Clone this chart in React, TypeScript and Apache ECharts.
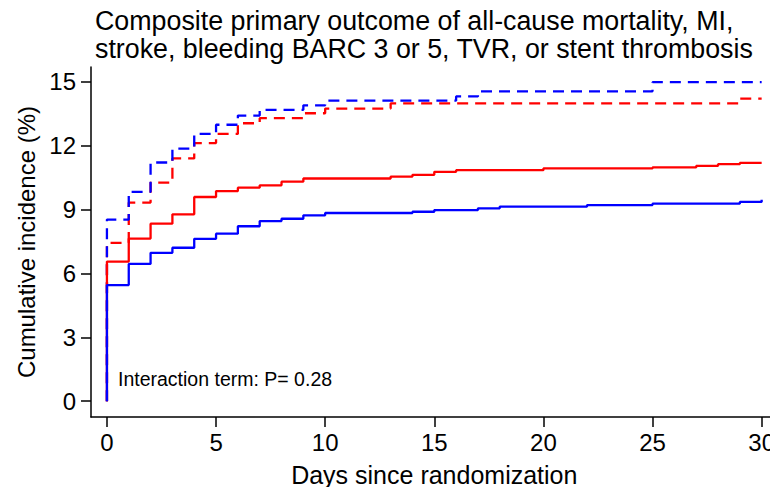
import React, { useEffect, useRef } from "react";
import * as echarts from "echarts";

const titleLines = [
  "Composite primary outcome of all-cause mortality, MI,",
  "stroke, bleeding BARC 3 or 5, TVR, or stent thrombosis",
];
const xTicks = [0, 5, 10, 15, 20, 25, 30];
const yTicks = [0, 3, 6, 9, 12, 15];
const annotation = "Interaction term: P= 0.28";

// [day, cumulative incidence %]
const blueSolid: number[][] = [
  [0, 0], [0, 5.45], [1, 6.44], [2, 6.96], [3, 7.2], [4, 7.62], [5, 7.86],
  [6, 8.21], [7, 8.45], [8, 8.56], [9, 8.72], [10, 8.83], [14, 8.89],
  [15, 8.97], [17, 9.05], [18, 9.13], [22, 9.2], [25, 9.27], [29, 9.35],
  [30, 9.45],
];
const redSolid: number[][] = [
  [0, 0], [0, 6.55], [1, 7.63], [2, 8.33], [3, 8.77], [4, 9.58], [5, 9.86],
  [6, 10.02], [7, 10.13], [8, 10.3], [9, 10.45], [13, 10.54], [14, 10.62],
  [15, 10.76], [16, 10.84], [20, 10.92], [25, 10.97], [27, 11.04],
  [28, 11.12], [29, 11.18], [30, 11.18],
];
const blueDashed: number[][] = [
  [0, 0], [0, 8.52], [1, 9.82], [2, 11.2], [3, 11.85], [4, 12.54],
  [5, 12.97], [6, 13.4], [7, 13.67], [9, 13.88], [10, 14.1], [16, 14.3],
  [17, 14.54], [25, 14.97], [30, 14.97],
];
const redDashed: number[][] = [
  [0, 0], [0, 7.43], [1, 9.32], [2, 10.26], [3, 11.39], [4, 12.11],
  [5, 12.54], [6, 13.04], [7, 13.28], [9, 13.51], [10, 13.73], [13, 13.97],
  [29, 14.2], [30, 14.2],
];

const FONT = "Liberation Sans";

export default function App() {
  const ref = useRef<HTMLDivElement>(null);
  useEffect(() => {
    if (!ref.current) return;
    const chart = echarts.init(ref.current, undefined, { renderer: "svg" });
    const mk = (name: string, data: number[][], color: string, dashed: boolean) => ({
      name,
      type: "line",
      step: "end",
      data,
      showSymbol: false,
      symbol: "none",
      silent: true,
      lineStyle: {
        color,
        width: 2.3,
        type: dashed ? [11, 7] : "solid",
        cap: "butt",
      },
    });
    chart.setOption({
      animation: false,
      backgroundColor: "#ffffff",
      textStyle: { fontFamily: FONT },
      title: {
        text: titleLines.join("\n"),
        left: 90,
        top: 2,
        textStyle: {
          fontFamily: FONT,
          fontSize: 26.8,
          fontWeight: "normal",
          color: "#000",
          lineHeight: 28,
        },
      },
      grid: { left: 91, right: 0, top: 67, bottom: 78 },
      xAxis: {
        type: "value",
        min: -0.73,
        max: 30.73,
        name: "Days since randomization",
        nameLocation: "middle",
        nameGap: 45,
        nameTextStyle: { fontFamily: FONT, fontSize: 25, color: "#000" },
        axisLine: { onZero: false, lineStyle: { color: "#000", width: 1.5 } },
        axisTick: {
          show: true,
          length: 10,
          customValues: xTicks,
          lineStyle: { color: "#000", width: 1.5 },
        },
        axisLabel: {
          customValues: xTicks,
          margin: 13,
          fontFamily: FONT,
          fontSize: 24,
          color: "#000",
        },
        splitLine: { show: false },
      },
      yAxis: {
        type: "value",
        min: -0.74,
        max: 15.68,
        name: "Cumulative incidence (%)",
        nameLocation: "middle",
        nameGap: 52,
        nameTextStyle: { fontFamily: FONT, fontSize: 24, color: "#000" },
        axisLine: { onZero: false, lineStyle: { color: "#000", width: 1.5 } },
        axisTick: {
          show: true,
          length: 10,
          customValues: yTicks,
          lineStyle: { color: "#000", width: 1.5 },
        },
        axisLabel: {
          customValues: yTicks,
          margin: 15,
          fontFamily: FONT,
          fontSize: 24,
          color: "#000",
        },
        splitLine: { show: false },
      },
      graphic: [
        {
          type: "text",
          left: 118,
          top: 369,
          style: {
            text: annotation,
            fontFamily: FONT,
            fontSize: 19.5,
            fill: "#000",
          },
        },
      ],
      series: [
        mk("Red dashed", redDashed, "#ff0000", true),
        mk("Blue dashed", blueDashed, "#0000ff", true),
        mk("Red solid", redSolid, "#ff0000", false),
        mk("Blue solid", blueSolid, "#0000ff", false),
      ],
    });
    return () => chart.dispose();
  }, []);
  return <div ref={ref} style={{ width: 778, height: 495, margin: -8 }} />;
}
